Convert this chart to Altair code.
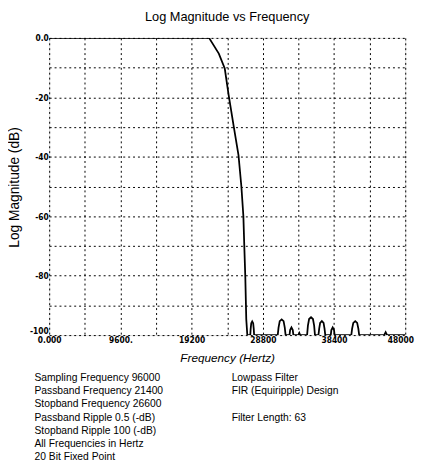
import altair as alt
import pandas as pd

# Frequency response (Hz, dB)
freq = [0, 4800, 9600, 14400, 19200, 21550, 22870, 23670, 24190, 24860, 25520,
        25910, 26180, 26310, 26440, 26570, 26710,
        27110, 27160, 27240, 27370, 27500, 27580, 27630,
        30810, 30920, 31080, 31340, 31600, 31760, 31870,
        32400, 32480, 32660, 32840, 32920,
        33600, 33720, 33840,
        34770, 34880, 35040, 35300, 35560, 35720, 35830,
        36300, 36400, 36530, 36760, 36990, 37120, 37220,
        37960, 38040, 38220, 38400, 38480,
        40730, 40840, 41000, 41260, 41520, 41680, 41790,
        45160, 45360, 45560,
        48000]
mag_db = [0, 0, 0, 0, 0, 0, -5.3, -10.3, -19.2, -29.5, -39.4,
          -50, -60, -70.5, -80.5, -94.7, -100,
          -100, -98, -96, -95.4, -96, -98, -100,
          -100, -97.5, -95.3, -94.7, -95.3, -97.5, -100,
          -100, -98.3, -97.4, -98.3, -100,
          -100, -99.3, -100,
          -100, -96.8, -94.6, -94.0, -94.6, -96.8, -100,
          -100, -97.8, -95.9, -95.3, -95.9, -97.8, -100,
          -100, -98.3, -97.4, -98.3, -100,
          -100, -97.8, -95.9, -95.3, -95.9, -97.8, -100,
          -100, -99, -100,
          -100]

x_grid = [0, 4800, 9600, 14400, 19200, 24000, 28800, 33600, 38400, 43200, 48000]
y_grid = [0, -10, -20, -30, -40, -50, -60, -70, -80, -90, -100]

left_notes = ["Sampling Frequency 96000", "Passband Frequency 21400",
              "Stopband Frequency 26600", "Passband Ripple 0.5 (-dB)",
              "Stopband Ripple 100 (-dB)", "All Frequencies in Hertz",
              "20 Bit Fixed Point"]
right_notes_top = ["Lowpass Filter", "FIR (Equiripple) Design"]
right_notes_bottom = ["Filter Length: 63"]

FONT = "Liberation Sans"
NARROW = "Liberation Sans Narrow, DejaVu Sans Condensed, Liberation Sans, sans-serif"
LINE_H = 13.4
TOP = 342

df = pd.DataFrame({"freq": freq, "db": mag_db})

x_axis = alt.Axis(
    values=x_grid,
    labelExpr="datum.value == 0 ? '0.000' : (datum.value == 9600 ? '9600.' : (datum.value % 9600 == 0 ? datum.value + '' : ''))",
    grid=True, gridDash=[2, 3], gridColor="black", gridOpacity=1, gridWidth=1,
    ticks=False, tickSize=0, domain=False,
    labelFont=NARROW, labelFontSize=8.5, labelFontWeight="bold", labelColor="black", labelPadding=1,
    labelOffset={"condition": {"test": "datum.value == 48000", "value": -5}, "value": 0},
    labelFlush=False, labelOverlap=False,
    title="Frequency (Hertz)", titleFont=FONT, titleFontSize=12, titleFontStyle="italic",
    titleFontWeight="normal", titleColor="black",
    titleX=181.5, titleY=23, titleBaseline="middle", titleAlign="center",
)
y_axis = alt.Axis(
    values=y_grid,
    labelExpr="datum.value == 0 ? '0.0' : (datum.value % 20 == 0 ? datum.value + '' : '')",
    grid=True, gridDash=[2, 3], gridColor="black", gridOpacity=1, gridWidth=1,
    ticks=False, tickSize=0, domain=False,
    labelFont=NARROW, labelFontSize=8.5, labelFontWeight="bold", labelColor="black", labelPadding=1,
    labelBaseline={"condition": {"test": "datum.value == -100", "value": "bottom"}, "value": "middle"},
    labelFlush=False, labelOverlap=False,
    title="Log Magnitude (dB)", titleFont=FONT, titleFontSize=14,
    titleFontWeight="normal", titleColor="black",
    titleX=-35, titleY=152, titleAngle=270, titleBaseline="middle", titleAlign="center",
)

line = alt.Chart(df).mark_line(color="black", strokeWidth=1.8, clip=True).encode(
    x=alt.X("freq:Q", scale=alt.Scale(domain=[0, 48000], nice=False, zero=False), axis=x_axis),
    y=alt.Y("db:Q", scale=alt.Scale(domain=[-100, 0], nice=False), axis=y_axis),
)


def notes(lines, x, y):
    return alt.Chart(pd.DataFrame({"t": ["\n".join(lines)]})).mark_text(
        align="left", baseline="top", font=FONT, fontSize=10.5, color="black",
        lineBreak="\n", lineHeight=LINE_H,
    ).encode(text="t:N", x=alt.value(x), y=alt.value(y))


left_txt = notes(left_notes, -15, TOP)
right_txt1 = notes(right_notes_top, 186, TOP)
right_txt2 = notes(right_notes_bottom, 186, TOP + 3 * LINE_H)

chart = alt.layer(line, left_txt, right_txt1, right_txt2).properties(
    width=363, height=303,
    padding={"left": 42, "top": 26, "right": 12, "bottom": 130},
    autosize=alt.AutoSizeParams(type="none"),
    title=alt.Title("Log Magnitude vs Frequency", font=FONT, fontSize=13,
                    fontWeight="normal", color="black", offset=10, anchor="middle"),
).configure_view(stroke="black", strokeWidth=1.5).configure(background="white")

chart.save("out.html", embed_options={"renderer": "svg", "actions": False})
